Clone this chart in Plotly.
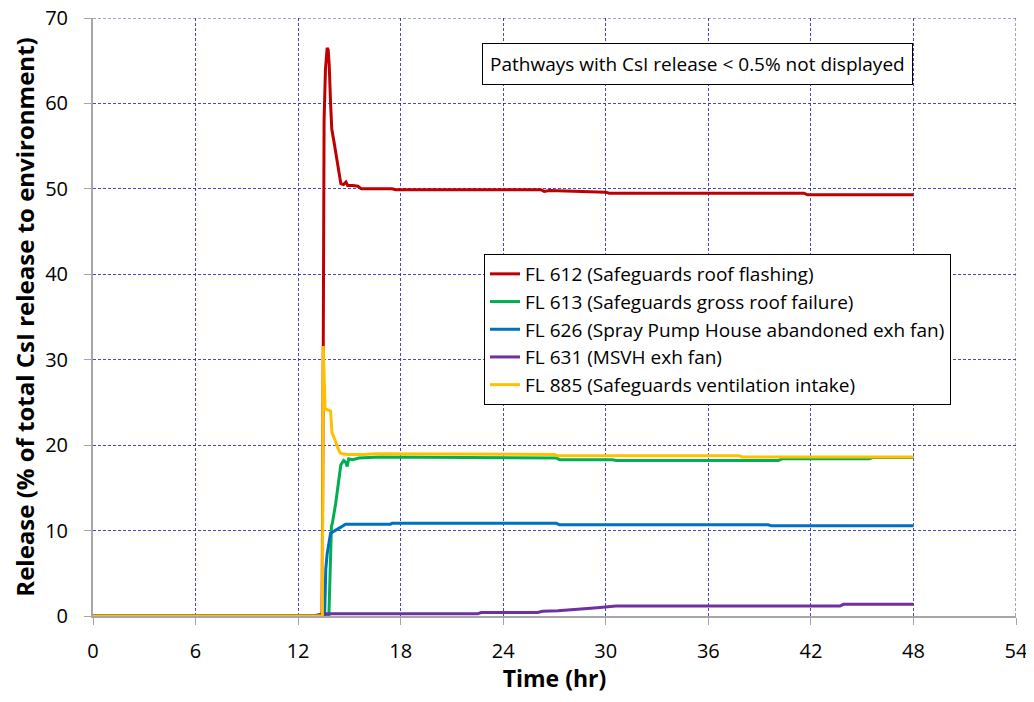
import plotly.graph_objects as go

# ---- data ----
names = [
    "FL 612 (Safeguards roof flashing)",
    "FL 613 (Safeguards gross roof failure)",
    "FL 626 (Spray Pump House abandoned exh fan)",
    "FL 631 (MSVH exh fan)",
    "FL 885 (Safeguards ventilation intake)",
]
colors = ["#c00000", "#00b050", "#0070c0", "#7030a0", "#ffc000"]

fl612_t = [0, 13.4, 13.45, 13.48, 13.52, 13.6, 13.7, 13.76, 13.82, 13.9, 13.97, 14.1, 14.25, 14.4,
           14.5, 14.65, 14.8, 14.9, 15.2, 15.5, 15.7, 17.5, 17.7, 26.2, 26.4, 26.7, 28.4, 28.6,
           30.0, 30.2, 41.6, 41.8, 48]
fl612_v = [0, 0, 20, 45, 58, 64, 66.5, 66.3, 64.5, 60, 57, 55.5, 53.5, 51.5,
           50.6, 50.5, 50.8, 50.4, 50.4, 50.3, 50.0, 50.0, 49.9, 49.9, 49.7, 49.8, 49.7, 49.6,
           49.6, 49.5, 49.5, 49.3, 49.3]

fl613_t = [0, 13.8, 13.95, 14.0, 14.2, 14.35, 14.5, 14.67, 14.78, 14.87, 14.96, 15.2, 15.55, 16.8,
           27.1, 27.3, 30.4, 30.6, 40.1, 40.3, 45.4, 45.6, 48]
fl613_v = [0, 0, 10.5, 10.8, 13.2, 15.2, 17.7, 18.2, 18.0, 17.5, 18.4, 18.3, 18.5, 18.6,
           18.5, 18.3, 18.3, 18.2, 18.2, 18.4, 18.4, 18.55, 18.55]

fl626_t = [0, 13.55, 13.62, 13.7, 13.9, 14.2, 14.5, 14.77, 17.4, 17.5, 27.1, 27.3, 39.5, 39.7, 48]
fl626_v = [0, 0, 5.5, 7.3, 9.7, 10.1, 10.4, 10.75, 10.75, 10.85, 10.85, 10.67, 10.67, 10.55, 10.55]

fl631_t = [0, 12.9, 13.2, 13.45, 13.6, 22.5, 22.7, 26.0, 26.3, 27.2, 28.2, 29.5, 30.6, 43.7, 43.9, 48]
fl631_v = [0, 0, 0.15, 0.2, 0.25, 0.25, 0.4, 0.4, 0.55, 0.6, 0.8, 0.97, 1.17, 1.17, 1.37, 1.37]

fl885_t = [0, 13.42, 13.47, 13.52, 13.58, 13.65, 13.9, 13.98, 14.05, 14.2, 14.3, 14.45, 14.6, 14.9,
           15.8, 16.6, 27.0, 27.2, 37.8, 38.0, 48]
fl885_v = [0, 0, 31.6, 28, 24.2, 24.2, 24.0, 21.5, 21.2, 20.4, 19.8, 19.1, 19.0, 18.9,
           18.9, 19.0, 18.9, 18.75, 18.75, 18.6, 18.6]

series_t = [fl612_t, fl613_t, fl626_t, fl631_t, fl885_t]
series_v = [fl612_v, fl613_v, fl626_v, fl631_v, fl885_v]

X_MAX, Y_MAX = 54, 70

FONT = "'Open Sans', sans-serif"
GRID_COLOR = "rgba(40,40,170,0.85)"

# page body has an 8px default margin; figure sized to fit the 1034x702 window
W, H = 1018, 686
L, T, R, B = 85, 10, 10, 78
PW, PH = W - L - R, H - T - B

fig = go.Figure()
for n, c, t, v in zip(names, colors, series_t, series_v):
    fig.add_trace(go.Scatter(x=t, y=v, mode="lines", name=n,
                             line=dict(color=c, width=3)))

grid = dict(showgrid=True, gridcolor=GRID_COLOR, gridwidth=1, griddash="3px,2px")
fig.update_xaxes(range=[0, X_MAX], dtick=6, tick0=0, zeroline=False, automargin=False,
                 showline=True, linecolor="#a6a6a6", linewidth=2,
                 ticks="outside", ticklen=7, tickcolor="#a6a6a6", tickwidth=1,
                 ticklabelstandoff=9, ticklabeloverflow="allow",
                 tickfont=dict(size=20, color="black", family=FONT),
                 title=dict(text="<b>Time (hr)</b>", font=dict(size=23, color="black", family=FONT),
                            standoff=20),
                 **grid)
fig.update_yaxes(range=[0, Y_MAX], dtick=10, tick0=0, zeroline=False, automargin=False,
                 showline=True, linecolor="#a6a6a6", linewidth=2,
                 ticks="outside", ticklen=7, tickcolor="#a6a6a6", tickwidth=1,
                 ticklabelstandoff=12, ticklabeloverflow="allow",
                 tickfont=dict(size=20, color="black", family=FONT),
                 title=dict(text="<b>Release (% of total CsI release to environment)</b>",
                            font=dict(size=24, color="black", family=FONT), standoff=8),
                 **grid)

# boundary grid lines (top and right) dashed like the others
fig.add_shape(type="line", xref="x", yref="y", x0=0, x1=X_MAX, y0=Y_MAX, y1=Y_MAX,
              line=dict(color=GRID_COLOR, width=1, dash="3px,2px"), layer="below")
fig.add_shape(type="line", xref="x", yref="y", x0=X_MAX, x1=X_MAX, y0=0, y1=Y_MAX,
              line=dict(color=GRID_COLOR, width=1, dash="3px,2px"), layer="below")

fig.add_annotation(xref="paper", yref="paper", x=(697 - 8 - L) / PW, y=(PH + T - (64 - 8)) / PH,
                   text="Pathways with CsI release < 0.5% not displayed",
                   showarrow=False, font=dict(size=19, color="black", family=FONT),
                   bordercolor="black", borderwidth=1, borderpad=7, bgcolor="white",
                   xanchor="center", yanchor="middle")

fig.update_layout(
    width=W, height=H,
    margin=dict(l=L, r=R, t=T, b=B),
    paper_bgcolor="white", plot_bgcolor="white",
    font=dict(family=FONT, color="black"),
    legend=dict(x=(484 - 8 - L) / PW, y=(PH + T - (254 - 8)) / PH, xanchor="left", yanchor="top",
                bordercolor="black", borderwidth=1, bgcolor="white",
                font=dict(size=19, color="black", family=FONT),
                itemwidth=30, tracegroupgap=0),
    showlegend=True,
)

fig.write_html("out.html")
